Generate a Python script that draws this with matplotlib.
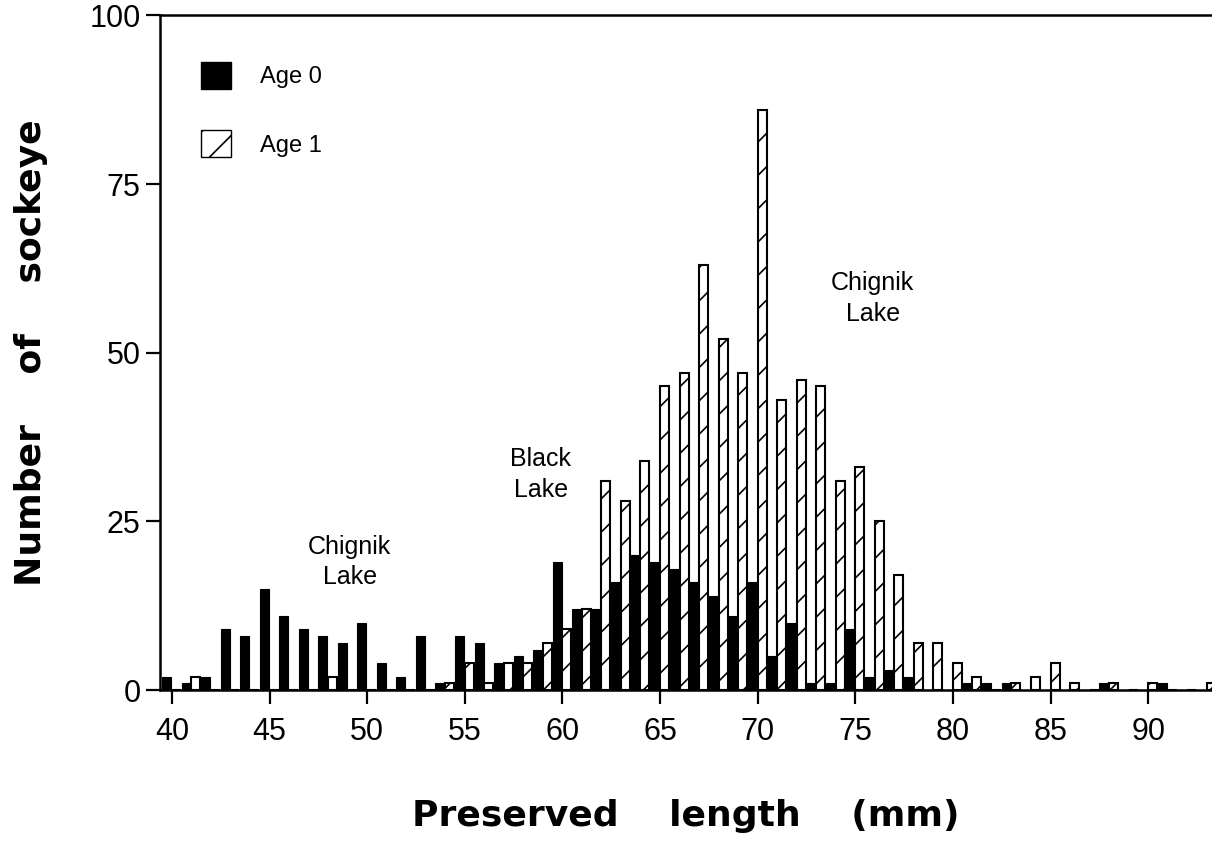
import matplotlib
matplotlib.use("Agg")
import matplotlib.pyplot as plt
import numpy as np
from matplotlib.patches import Patch

plt.rcParams["font.family"] = ["Liberation Sans", "DejaVu Sans"]
plt.rcParams["hatch.linewidth"] = 1.2

# preserved length (mm) and counts
lengths = np.arange(40, 94)
age0 = [2, 1, 2, 9, 8, 15, 11, 9, 8, 7,
        10, 4, 2, 8, 1, 8, 7, 4, 5, 6,
        19, 12, 12, 16, 20, 19, 18, 16, 14, 11,
        16, 5, 10, 1, 1, 9, 2, 3, 2, 0,
        0, 1, 1, 1, 0, 0, 0, 0, 1, 0,
        0, 1, 0, 0]
age1 = [0, 2, 0, 0, 0, 0, 0, 0, 2, 0,
        0, 0, 0, 0, 1, 4, 1, 4, 4, 7,
        9, 12, 31, 28, 34, 45, 47, 63, 52, 47,
        86, 43, 46, 45, 31, 33, 25, 17, 7, 7,
        4, 2, 0, 1, 2, 4, 1, 0, 1, 0,
        1, 0, 0, 1]

annotations = [
    ("Chignik\nLake", 49.1, 19),
    ("Black\nLake", 58.9, 32),
    ("Chignik\nLake", 75.9, 58),
]

fig = plt.figure(figsize=(12.12, 8.5), dpi=100)
ax = fig.add_axes([0.132, 0.188, 0.868, 0.794])

w = 0.46
# age 0 sits just left of each length, age 1 just right
ax.bar(lengths - 0.04, age0, width=-w, align="edge", color="black",
       edgecolor="black", linewidth=0.8)
ax.bar(lengths, age1, width=w, align="edge", color="white",
       edgecolor="black", linewidth=1.5, hatch="/")

for txt, x, y in annotations:
    ax.text(x, y, txt, ha="center", va="center", fontsize=18,
            linespacing=1.35)

ax.set_xlim(39.39, 93.27)
ax.set_ylim(0, 100)
ax.set_xticks(np.arange(40, 91, 5))
ax.set_yticks([0, 25, 50, 75, 100])
ax.tick_params(axis="both", direction="out", length=10, width=1.6,
               labelsize=22, pad=4)
ax.tick_params(axis="x", pad=9)

ax.spines["right"].set_visible(False)
for s in ["left", "bottom", "top"]:
    ax.spines[s].set_linewidth(1.8)

ax.set_xlabel("Preserved    length    (mm)", fontsize=26, fontweight="bold",
              family="DejaVu Sans", labelpad=38)
ax.set_ylabel("Number    of    sockeye", fontsize=26, fontweight="bold",
              family="DejaVu Sans", labelpad=30)

handles = [Patch(facecolor="black", edgecolor="black"),
           Patch(facecolor="white", edgecolor="black", hatch="/")]
ax.legend(handles, ["Age 0", "Age 1"], loc="upper left",
          bbox_to_anchor=(0.019, 0.963), frameon=False, fontsize=17,
          handlelength=1.27, handleheight=1.4, labelspacing=1.75,
          handletextpad=1.2)

fig.savefig("out.png", dpi=100)
